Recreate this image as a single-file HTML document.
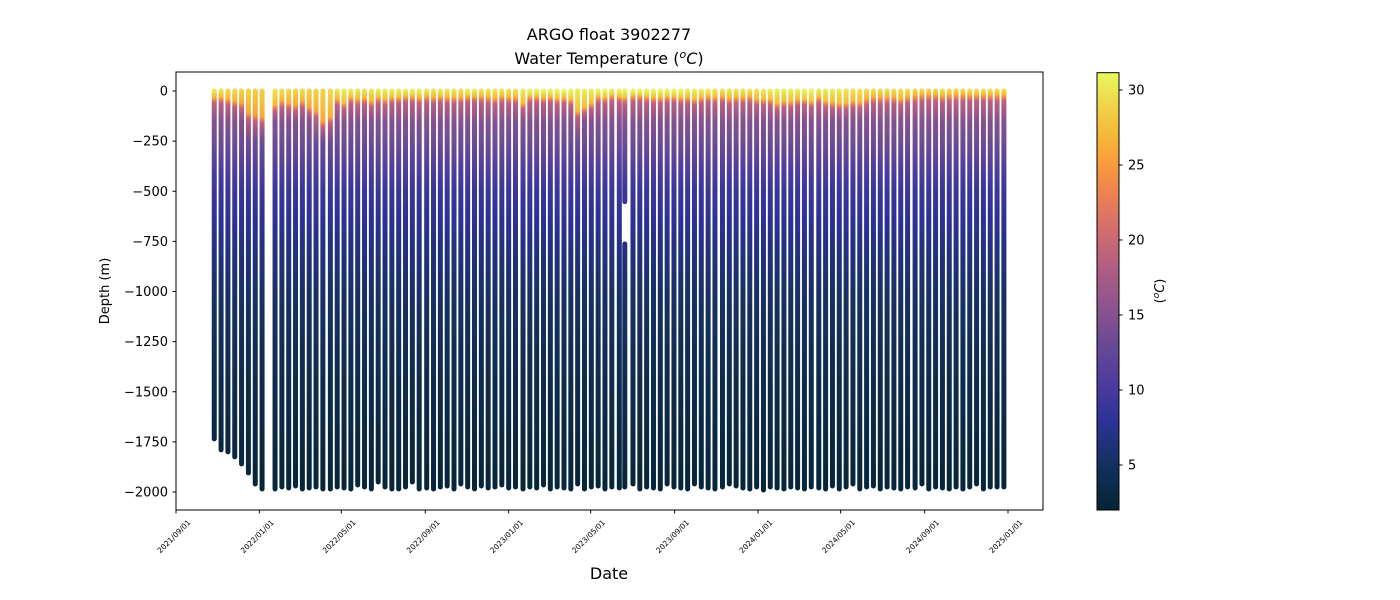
<!DOCTYPE html>
<html><head><meta charset="utf-8"><style>
html,body{margin:0;padding:0;background:#fff;}
svg{display:block;font-family:"DejaVu Sans","Liberation Sans",sans-serif;}
</style></head><body>
<svg id="chart" width="1400" height="600" viewBox="0 0 1400 600">
<defs id="defs"></defs>
<text x="609" y="40" text-anchor="middle" font-size="16">ARGO float 3902277</text>
<text x="609" y="64" text-anchor="middle" font-size="16">Water Temperature (<tspan font-style="italic" font-size="11" dy="-6">o</tspan><tspan font-style="italic" dy="6">C</tspan>)</text>
<g id="profiles"></g>
<rect x="176" y="72" width="867" height="438" fill="none" stroke="#000" stroke-width="1"/>
<g id="yaxis"></g>
<g id="xaxis"></g>
<text x="0" y="0" transform="translate(109,291) rotate(-90)" text-anchor="middle" font-size="13">Depth (m)</text>
<text x="609" y="579" text-anchor="middle" font-size="16">Date</text>
<g id="colorbar"></g>
<text x="0" y="0" transform="translate(1164,291) rotate(-90)" text-anchor="middle" font-size="13">(<tspan font-style="italic" font-size="9" dy="-5">o</tspan><tspan font-style="italic" dy="5">C</tspan>)</text>
</svg>
<script>
// ---- data ----
const profileDays = [56,66,76,86,96,106,116,126,
145,155,165,175,185,195,205,215,226,236,246,256,266,276,286,296,306,316,326,336,346,356,367,377,387,397,407,417,427,437,447,457,467,477,487,497,508,518,528,538,548,558,568,578,588,598,608,618,628,638,649,657,669,679,689,699,709,719,729,739,749,759,769,779,789,800,810,820,830,840,850,860,870,880,890,900,910,920,930,941,951,961,971,981,991,1001,1011,1021,1031,1041,1051,1061,1071,1082,1092,1102,1112,1122,1132,1142,1152,1162,1172,1182,1192,1202,1212];
const maxDepth = [1735,1790,1800,1825,1860,1905,1960,1985,
1985,1975,1980,1970,1985,1980,1975,1985,1985,1975,1980,1985,1965,1975,1985,1950,1975,1985,1985,1975,1950,1985,1980,1985,1975,1970,1985,1960,1975,1985,1970,1980,1975,1965,1980,1975,1985,1975,1980,1965,1985,1975,1980,1985,1960,1985,1975,1970,1985,1975,1980,1975,1960,1985,1975,1980,1985,1960,1975,1980,1985,1960,1975,1980,1985,1975,1960,1970,1980,1985,1975,1990,1975,1980,1985,1975,1980,1985,1975,1980,1985,1970,1985,1975,1960,1985,1975,1970,1985,1975,1980,1985,1975,1980,1960,1985,1975,1980,1985,1975,1985,1975,1960,1985,1975,1975,1975];
const mixedLayer = [30,30,40,50,60,110,120,130,
70,50,60,70,50,80,100,150,130,40,60,30,40,35,50,30,40,30,30,25,25,30,25,30,25,30,30,30,25,25,25,30,35,25,30,30,60,25,25,30,25,35,30,40,100,80,60,25,30,20,25,30,20,20,25,30,30,25,25,30,30,40,30,25,30,25,35,30,30,25,40,40,40,60,50,50,40,40,50,30,50,55,60,60,50,55,40,30,30,30,30,40,30,25,20,20,20,25,20,20,20,20,20,20,20,20,20];
const surfaceTemp = [30.2,29.8,29.3,29.3,28.8,28.8,28.3,28.8,
29.8,29.3,29.3,28.8,29.3,28.8,28.8,28.8,29.3,29.8,30.3,30.3,29.8,29.8,29.8,30.3,30.3,30.3,30.3,30.3,30.3,30.3,29.8,29.8,30.3,29.8,29.8,29.8,30.3,30.3,29.8,29.8,29.8,29.8,29.8,29.8,30.3,30.8,30.8,30.8,30.8,30.8,30.8,30.8,30.3,30.3,30.3,30.8,30.8,30.3,30.8,30.8,30.8,30.8,30.8,30.8,30.8,30.8,30.8,30.8,30.3,30.3,30.3,30.3,29.8,29.8,29.8,29.8,29.8,29.8,29.8,30.3,30.3,30.3,30.3,30.3,30.3,30.8,30.8,30.3,30.3,30.3,30.3,29.8,29.8,29.8,29.3,29.3,29.3,29.3,29.3,29.3,29.3,28.8,28.8,28.8,28.8,29.3,29.3,28.8,28.8,29.3,29.3,29.3,29.3,29.3,29.3];
const gapIndex = [59];
const gapTop = [552];
const gapBottom = [763];
const profDepth = [0,150,250,400,500,750,1000,1250,1500,1750,2000];
const profTemp  = [18,15,13.5,10.5,9,7,5.4,4.5,3.7,3.1,2.5];
const yTicks = [0,-250,-500,-750,-1000,-1250,-1500,-1750,-2000];
const xTickDays = [0,122,242,365,487,607,730,852,973,1096,1218];
const xTickLabels = ["2021/09/01","2022/01/01","2022/05/01","2022/09/01","2023/01/01","2023/05/01","2023/09/01","2024/01/01","2024/05/01","2024/09/01","2025/01/01"];
const cbarTicks = [5,10,15,20,25,30];
const cmapStops = [[0,"#042333"],[0.1,"#14305e"],[0.2,"#2c3296"],[0.28,"#4a3a9e"],[0.38,"#6a4a95"],[0.45,"#87528f"],[0.55,"#ae5d84"],[0.62,"#cc6976"],[0.72,"#ed8053"],[0.79,"#f99b3b"],[0.86,"#f6ba38"],[0.93,"#eed64a"],[1,"#e8fa5b"]];
// ---- scales ----
const NS="http://www.w3.org/2000/svg";
const xs = d => 176 + d*(832/1218);
const ys = m => 91 + (-m)*(401/2000);
const tMin=2.0, tMax=31.15;
function hex(c){return [1,3,5].map(i=>parseInt(c.substr(i,2),16));}
function cmap(t){
  let f=Math.max(0,Math.min(1,(t-tMin)/(tMax-tMin)));
  for(let i=1;i<cmapStops.length;i++){
    if(f<=cmapStops[i][0]){
      const a=cmapStops[i-1],b=cmapStops[i],u=(f-a[0])/(b[0]-a[0]);
      const ca=hex(a[1]),cb=hex(b[1]);
      return "rgb("+ca.map((v,k)=>Math.round(v+(cb[k]-v)*u)).join(",")+")";
    }
  }
  return cmapStops[cmapStops.length-1][1];
}
function interp(xa,ya,x){
  if(x<=xa[0])return ya[0];
  for(let i=1;i<xa.length;i++) if(x<=xa[i]) return ya[i-1]+(ya[i]-ya[i-1])*(x-xa[i-1])/(xa[i]-xa[i-1]);
  return ya[ya.length-1];
}
function tempAt(i,d){
  const mld=mixedLayer[i], sst=surfaceTemp[i];
  if(d<=mld) return sst-3*(d/mld);
  const dd=[mld,mld+30].concat(profDepth.filter(v=>v>mld+60));
  const tt=[sst-3,19].concat(profTemp.filter((v,k)=>profDepth[k]>mld+60));
  return interp(dd,tt,d);
}
const defs=document.getElementById('defs');
const gP=document.getElementById('profiles');
function mk(tag,attrs,parent){const e=document.createElementNS(NS,tag);for(const k in attrs)e.setAttribute(k,attrs[k]);parent.appendChild(e);return e;}
// ---- profiles ----
profileDays.forEach((day,i)=>{
  const gid='g'+i;
  const gr=mk('linearGradient',{id:gid,gradientUnits:'userSpaceOnUse',x1:0,x2:0,y1:ys(0),y2:ys(-2000)},defs);
  const ds=[];
  for(let d=0;d<=300;d+=5)ds.push(d);
  for(let d=350;d<=2000;d+=50)ds.push(d);
  ds.forEach(d=>mk('stop',{offset:d/2000,'stop-color':cmap(tempAt(i,d))},gr));
  const x=xs(day);
  const gi=gapIndex.indexOf(i);
  const segs = gi>=0 ? [[0,gapTop[gi]],[gapBottom[gi],maxDepth[i]]] : [[0,maxDepth[i]]];
  segs.forEach(s=>{
    const ln=mk('line',{x1:x,x2:x+0.001,y1:ys(-s[0]),y2:ys(-s[1]),stroke:'url(#'+gid+')','stroke-width':5,'stroke-linecap':'round'},gP);
    
    
  });
});
// ---- y axis ----
const gy=document.getElementById('yaxis');
yTicks.forEach(v=>{
  const y=ys(v);
  mk('line',{x1:172.5,x2:176,y1:y,y2:y,stroke:'#000','stroke-width':1},gy);
  const t=mk('text',{x:168,y:y+4.5,'text-anchor':'end','font-size':13},gy);
  t.textContent=String(v).replace('-','\u2212');
  
  
});
// ---- x axis ----
const gx=document.getElementById('xaxis');
xTickDays.forEach((d,k)=>{
  const x=xs(d);
  mk('line',{x1:x,x2:x,y1:510,y2:513.5,stroke:'#000','stroke-width':1},gx);
  const t=mk('text',{x:0,y:0,transform:'translate('+(x+15)+',523) rotate(-45)','text-anchor':'end','font-size':7.5},gx);
  t.textContent=xTickLabels[k];
  
  
});
// ---- colorbar ----
const gc=document.getElementById('colorbar');
const cby=t=>72.7+(tMax-t)*(437.3/(tMax-tMin));
const cg=mk('linearGradient',{id:'cbg',x1:0,x2:0,y1:1,y2:0},defs);
for(let k=0;k<=40;k++){const t=tMin+(tMax-tMin)*k/40;mk('stop',{offset:k/40,'stop-color':cmap(t)},cg);}
const cr=mk('rect',{x:1097,y:72.7,width:22,height:437.3,fill:'url(#cbg)',stroke:'#000','stroke-width':1},gc);


cbarTicks.forEach(v=>{
  const y=cby(v);
  mk('line',{x1:1119,x2:1122.5,y1:y,y2:y,stroke:'#000','stroke-width':1},gc);
  const t=mk('text',{x:1128,y:y+4.5,'font-size':13},gc);
  t.textContent=v;
  
  
});
</script>
</body></html>
